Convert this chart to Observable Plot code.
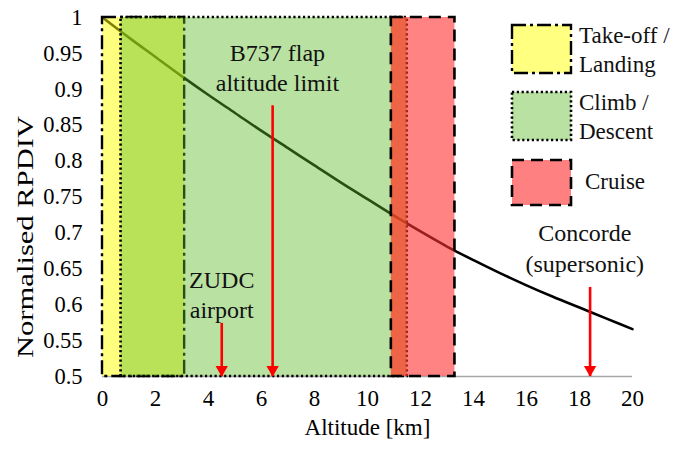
<!DOCTYPE html>
<html><head><meta charset="utf-8">
<script src="https://cdn.jsdelivr.net/npm/d3@7"></script>
<script src="https://cdn.jsdelivr.net/npm/@observablehq/plot@0.6"></script>
<style>
body{margin:0;background:#fff;}
#wrap{position:relative;width:675px;height:450px;font-family:"Liberation Serif",serif;}
#wrap svg.leg{position:absolute;left:0;top:0;pointer-events:none;}
</style></head><body><div id="wrap"></div>
<script>
// ---- data ----
const altitudeKm = [0,1,2,3,4,5,6,7,8,9,10,11,12,13,14,15,16,17,18,19,20];
const rpdiv = [1.000,0.972,0.945,0.918,0.892,0.867,0.842,0.818,0.794,0.770,0.747,0.724,0.702,0.681,0.662,0.644,0.627,0.611,0.596,0.581,0.566];
const phaseNames = ["Take-off /\nLanding","Climb /\nDescent","Cruise"];
const phaseStart = [0, 0.7, 10.9];
const phaseEnd = [3.1, 11.5, 13.3];
const yMin = 0.5, yMax = 1;
const xTicks = [0,2,4,6,8,10,12,14,16,18,20];
const yTicks = [0.5,0.55,0.6,0.65,0.7,0.75,0.8,0.85,0.9,0.95,1];
const noteLabels = ["B737 flap\naltitude limit","ZUDC\nairport","Concorde\n(supersonic)"];
const noteX = [6.6, 4.5, 18.2];
const noteY = [0.932, 0.616, 0.681];
const arrowX = [6.42, 4.5, 18.4];
const arrowTop = [0.877, 0.574, 0.624];
const xLabel = "Altitude [km]";
const yLabel = "Normalised RPDIV";

// ---- styles ----
const fills = ["#ffff00","#5dbc28","#ff3030"];
const fillOp = [0.5, 0.43, 0.6];
const swatch = ["#ffff80","#b9e2a2","#ff8080"];
const dashes = ["14,4,3,4","2.2,2.6","12,7"];
const bw = [2.4, 2.6, 2.6];

const curve = altitudeKm.map((x,i)=>({x, y: rpdiv[i]}));
const phases = phaseNames.map((n,i)=>({n, x1: phaseStart[i], x2: phaseEnd[i]}));
const overlap = [{x1: Math.max(phaseStart[1], phaseStart[2]), x2: Math.min(phaseEnd[1], phaseEnd[2])}];
const arrows = arrowX.map((x,i)=>({x, top: arrowTop[i]}));
const notes = noteLabels.map((t,i)=>({t, x: noteX[i], y: noteY[i]}));

const phaseMarks = [];
phases.forEach((p,i)=>{
  phaseMarks.push(Plot.rect([p], {x1:"x1", x2:"x2", y1: yMin, y2: yMax, fill: fills[i], fillOpacity: fillOp[i]}));
  if (i === 2) phaseMarks.push(Plot.rect(overlap, {x1:"x1", x2:"x2", y1: yMin, y2: yMax, fill: "#ff4a20", fillOpacity: 0.38}));
  phaseMarks.push(Plot.rect([p], {x1:"x1", x2:"x2", y1: yMin, y2: yMax, fill: "none", stroke: "black", strokeWidth: bw[i], strokeDasharray: dashes[i]}));
});

const chart = Plot.plot({
  width: 675, height: 450,
  marginLeft: 102, marginRight: 43, marginTop: 17, marginBottom: 74,
  style: {fontFamily: "Liberation Serif, serif", fontSize: "22px", color: "black", background: "white"},
  x: {domain: [0, 20]},
  y: {domain: [yMin, yMax]},
  marks: [
    Plot.ruleY([yMin], {stroke: "#a6a6a6", strokeWidth: 1.5}),
    Plot.line(curve, {x: "x", y: "y", stroke: "black", strokeWidth: 2.6, curve: "monotone-x"}),
    ...phaseMarks,
    Plot.ruleX(arrows, {x: "x", y1: "top", y2: yMin, stroke: "red", strokeWidth: 2.6}),
    Plot.dot(arrows, {x: "x", y: yMin, symbol: "triangle", rotate: 180, r: 4.6, fill: "red", stroke: null, dy: -7}),
    Plot.text(notes, {x: "x", y: "y", text: "t", fontSize: 24, lineHeight: 1.27, fill: "#111"}),
    Plot.axisX({ticks: xTicks, tickSize: 0, tickPadding: 13, fontSize: 23, label: null}),
    Plot.axisY({ticks: yTicks, tickSize: 0, tickPadding: 20, fontSize: 22.5, label: null, tickFormat: d => String(+d.toFixed(2))}),
    Plot.text([xLabel], {text: d => d, frameAnchor: "bottom", dy: 58, fontSize: 23}),
    Plot.text([yLabel], {text: d => d, frameAnchor: "left", textAnchor: "middle", dx: -77, dy: 40, rotate: -90, fontSize: 24})
  ]
});
const wrap = document.getElementById("wrap");
wrap.appendChild(chart);
d3.select(chart).selectAll("text").filter(function(){ return this.textContent === yLabel; })
  .attr("textLength", 242).attr("lengthAdjust", "spacingAndGlyphs");

// ---- legend overlay ----
const legTop = [25, 92, 160];
const legH = [48, 48, 45];
const leg = d3.select(wrap).append("svg").attr("class","leg").attr("width",675).attr("height",450);
phaseNames.forEach((n,i)=>{
  leg.append("rect").attr("x",512).attr("y",legTop[i]).attr("width",59).attr("height",legH[i])
    .attr("fill",swatch[i]).attr("stroke","black").attr("stroke-width",bw[i]).attr("stroke-dasharray",dashes[i]);
  const lines = n.split("\n");
  const t = leg.append("text").attr("font-family","Liberation Serif, serif").attr("font-size",23).attr("fill","#111");
  if (lines.length === 2) {
    t.append("tspan").attr("x",579).attr("y",legTop[i]+18).text(lines[0]);
    t.append("tspan").attr("x",579).attr("y",legTop[i]+47).text(lines[1]);
  } else {
    t.append("tspan").attr("x",585).attr("y",legTop[i]+29).text(lines[0]);
  }
});
</script></body></html>
